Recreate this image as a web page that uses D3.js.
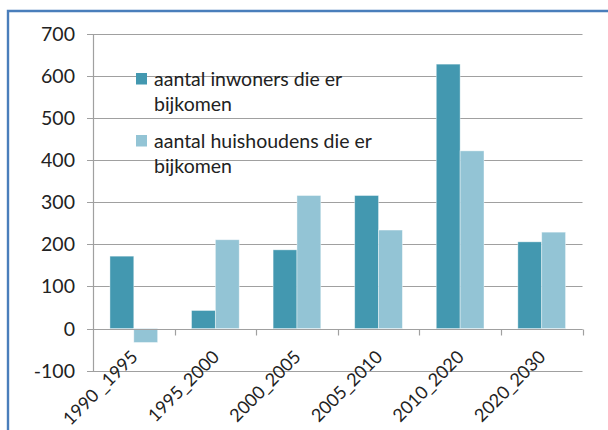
<!DOCTYPE html>
<html>
<head>
<meta charset="utf-8">
<script src="https://cdn.jsdelivr.net/npm/d3@7"></script>
<style>
  body { margin: 0; background: #fff; }
  svg { display: block; font-family: Lato, Carlito, Calibri, sans-serif; }
</style>
</head>
<body>
<svg id="chart"></svg>
<script>
const categories = ["1990 _1995", "1995_2000", "2000_2005", "2005_2010", "2010_2020", "2020_2030"];
const inwoners = [172, 43, 187, 316, 628, 206];
const huishoudens = [-33, 211, 316, 234, 422, 229];
const seriesNames = ["aantal inwoners die er bijkomen", "aantal huishoudens die er bijkomen"];
const yTicks = [-100, 0, 100, 200, 300, 400, 500, 600, 700];

const width = 608, height = 430;
const colors = ["#4398b0", "#93c4d5"];

const data = categories.map((c, i) => ({ cat: c, values: [inwoners[i], huishoudens[i]] }));

const svg = d3.select("#chart")
    .attr("width", width)
    .attr("height", height);

// outer chart border (only top and left visible)
svg.append("path")
    .attr("d", "M8,432 L8,11 L612,11")
    .attr("fill", "none")
    .attr("stroke", "#4a7ebb")
    .attr("stroke-width", 2.4);

const x0 = d3.scaleBand()
    .domain(categories)
    .range([93, 582.5])
    .padding(0);

const x1 = d3.scaleBand()
    .domain([0, 1])
    .range([0, x0.bandwidth()])
    .paddingInner(0)
    .paddingOuter(0.71);

const y = d3.scaleLinear()
    .domain([-100, 700])
    .range([370.7, 33.8]);

// gridlines
svg.append("g")
  .selectAll("line")
  .data(yTicks)
  .join("line")
    .attr("x1", 87)
    .attr("x2", x0.range()[1])
    .attr("y1", d => Math.round(y(d)) + 0.5)
    .attr("y2", d => Math.round(y(d)) + 0.5)
    .attr("stroke", "#a0a0a0")
    .attr("stroke-width", 1.2);

// y axis line
svg.append("line")
    .attr("x1", 93.5).attr("x2", 93.5)
    .attr("y1", Math.round(y(700)) + 0.5)
    .attr("y2", Math.round(y(-100)) + 0.5)
    .attr("stroke", "#a0a0a0")
    .attr("stroke-width", 1.2);

// y tick labels
svg.append("g")
  .selectAll("text")
  .data(yTicks)
  .join("text")
    .attr("x", 75)
    .attr("y", d => y(d))
    .attr("dy", "0.36em")
    .attr("text-anchor", "end")
    .attr("font-size", 19.5)
    .attr("fill", "#222")
    .text(d => d);

// bars
svg.append("g")
  .selectAll("g")
  .data(data)
  .join("g")
    .attr("transform", d => `translate(${x0(d.cat)},0)`)
  .selectAll("rect")
  .data(d => d.values.map((v, k) => ({ k, v })))
  .join("rect")
    .attr("x", d => x1(d.k))
    .attr("width", x1.bandwidth())
    .attr("y", d => y(Math.max(0, d.v)))
    .attr("height", d => Math.abs(y(d.v) - y(0)))
    .attr("fill", d => colors[d.k])
    .attr("stroke", "#fff")
    .attr("stroke-opacity", 0.5)
    .attr("stroke-width", 0.8);

// x axis at zero
const y0 = Math.round(y(0)) + 0.5;
svg.append("line")
    .attr("x1", 93).attr("x2", x0.range()[1])
    .attr("y1", y0).attr("y2", y0)
    .attr("stroke", "#a0a0a0")
    .attr("stroke-width", 1.2);

svg.append("g")
  .selectAll("line")
  .data(categories.slice(1).map(c => x0(c)).concat([x0.range()[1]]))
  .join("line")
    .attr("x1", d => Math.round(d) + 0.5)
    .attr("x2", d => Math.round(d) + 0.5)
    .attr("y1", y0)
    .attr("y2", y0 + 6)
    .attr("stroke", "#a0a0a0")
    .attr("stroke-width", 1.2);

// category labels, rotated
svg.append("g")
  .selectAll("text")
  .data(categories)
  .join("text")
    .attr("transform", d => `translate(${x0(d) + x0.bandwidth() / 2 + 5},358) rotate(-45)`)
    .attr("text-anchor", "end")
    .attr("font-size", 18)
    .attr("fill", "#222")
    .text(d => d);

// legend
const legend = svg.append("g")
  .selectAll("g")
  .data(seriesNames)
  .join("g")
    .attr("transform", (d, i) => `translate(136,${73 + i * 62})`);

legend.append("rect")
    .attr("width", 11)
    .attr("height", 11.5)
    .attr("fill", (d, i) => colors[i]);

legend.append("text")
    .attr("x", 18)
    .attr("y", 13)
    .attr("font-size", 19.5)
    .attr("fill", "#222")
  .selectAll("tspan")
  .data(d => [d.replace(" bijkomen", ""), "bijkomen"])
  .join("tspan")
    .attr("x", 18)
    .attr("dy", (d, i) => i === 0 ? 0 : 25)
    .text(d => d);
</script>
</body>
</html>
